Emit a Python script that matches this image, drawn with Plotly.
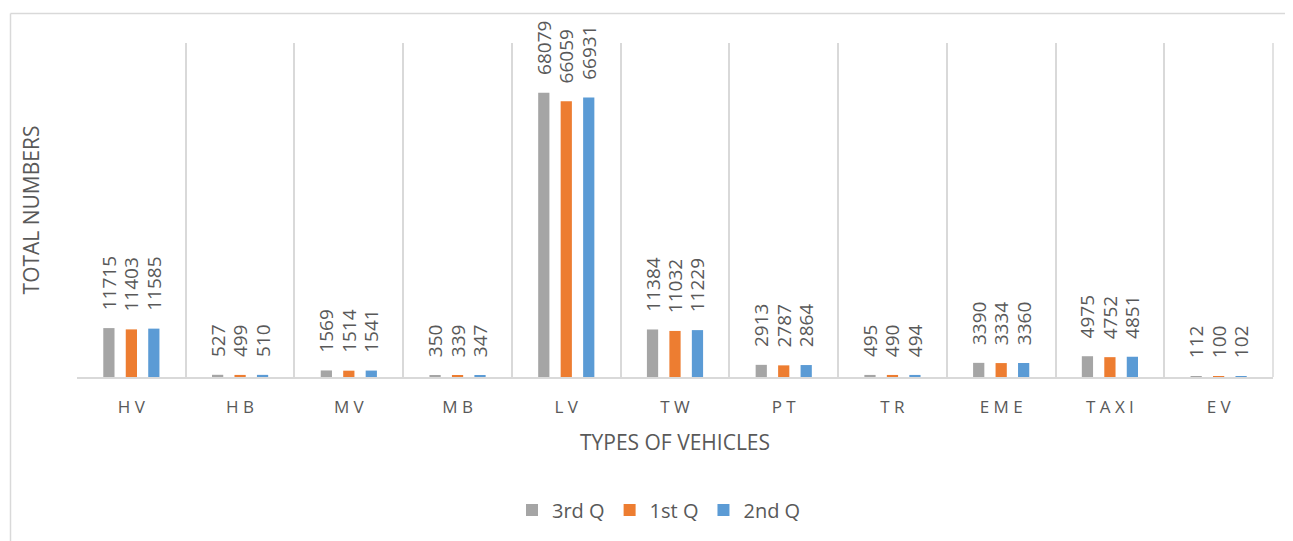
import plotly.graph_objects as go

categories = ["HV", "HB", "MV", "MB", "LV", "TW", "PT", "TR", "EME", "TAXI", "EV"]
q3 = [11715, 527, 1569, 350, 68079, 11384, 2913, 495, 3390, 4975, 112]
q1 = [11403, 499, 1514, 339, 66059, 11032, 2787, 490, 3334, 4752, 100]
q2 = [11585, 510, 1541, 347, 66931, 11229, 2864, 494, 3360, 4851, 102]
series_names = ["3rd Q", "1st Q", "2nd Q"]
colors = ["#A5A5A5", "#ED7D31", "#5B9BD5"]
tick_text = [" ".join(c) for c in categories]

FONT = "Open Sans"
TXT = "#595959"
PAD = "\u00a0\u00a0\u00a0"

fig = go.Figure()
for name, vals, col in zip(series_names, [q3, q1, q2], colors):
    fig.add_trace(go.Bar(
        x=categories, y=vals, name=name,
        marker=dict(color=col, line=dict(width=0)),
        text=[PAD + str(v) for v in vals],
        textposition="outside", textangle=-90,
        constraintext="none", cliponaxis=False,
        textfont=dict(family=FONT, size=19, color=TXT),
    ))

# page is offset by 8px body margin
W, H = 1285, 533
L, R, T, B = 69, 20, 35, 164
pw, ph = W - L - R, H - T - B

def px_x(p):
    return (p - 8 - L) / pw

def px_y(p):
    return (H - B - (p - 8)) / ph

fig.update_layout(
    width=W, height=H,
    margin=dict(l=L, r=R, t=T, b=B, autoexpand=False),
    paper_bgcolor="white", plot_bgcolor="white",
    barmode="group", bargap=0.38, bargroupgap=0.5,
    font=dict(family=FONT, color=TXT),
    showlegend=True,
    legend=dict(orientation="h", x=0.5 - 16 / pw, xanchor="center", y=px_y(510), yanchor="middle",
                font=dict(size=20, color=TXT), itemwidth=30, traceorder="normal"),
    xaxis=dict(
        type="category", tickmode="array", tickvals=categories, ticktext=tick_text,
        tickson="boundaries", showgrid=True, gridcolor="#D9D9D9", gridwidth=1.5,
        showline=True, linecolor="#D9D9D9", linewidth=1.5,
        ticks="", ticklabelstandoff=14,
        tickfont=dict(size=17, color=TXT), automargin=False,
        title=dict(text="TYPES OF VEHICLES", font=dict(size=21, color=TXT), standoff=18),
    ),
    yaxis=dict(
        range=[0, 80000], showgrid=False, showticklabels=False, zeroline=False,
        showline=False, automargin=False,
        title=dict(text="TOTAL NUMBERS", font=dict(size=21, color=TXT), standoff=30),
    ),
    shapes=[
        dict(type="line", xref="paper", yref="paper", x0=px_x(10.5), x1=px_x(1300),
             y0=px_y(13.5), y1=px_y(13.5), line=dict(color="#D9D9D9", width=1.5)),
        dict(type="line", xref="paper", yref="paper", x0=px_x(10.5), x1=px_x(10.5),
             y0=px_y(13.5), y1=px_y(560), line=dict(color="#D9D9D9", width=1.5)),
        dict(type="line", xref="paper", yref="paper", x0=1, x1=1,
             y0=0, y1=1, line=dict(color="#D9D9D9", width=1.5)),
    ],
)

fig.write_html("out.html")
